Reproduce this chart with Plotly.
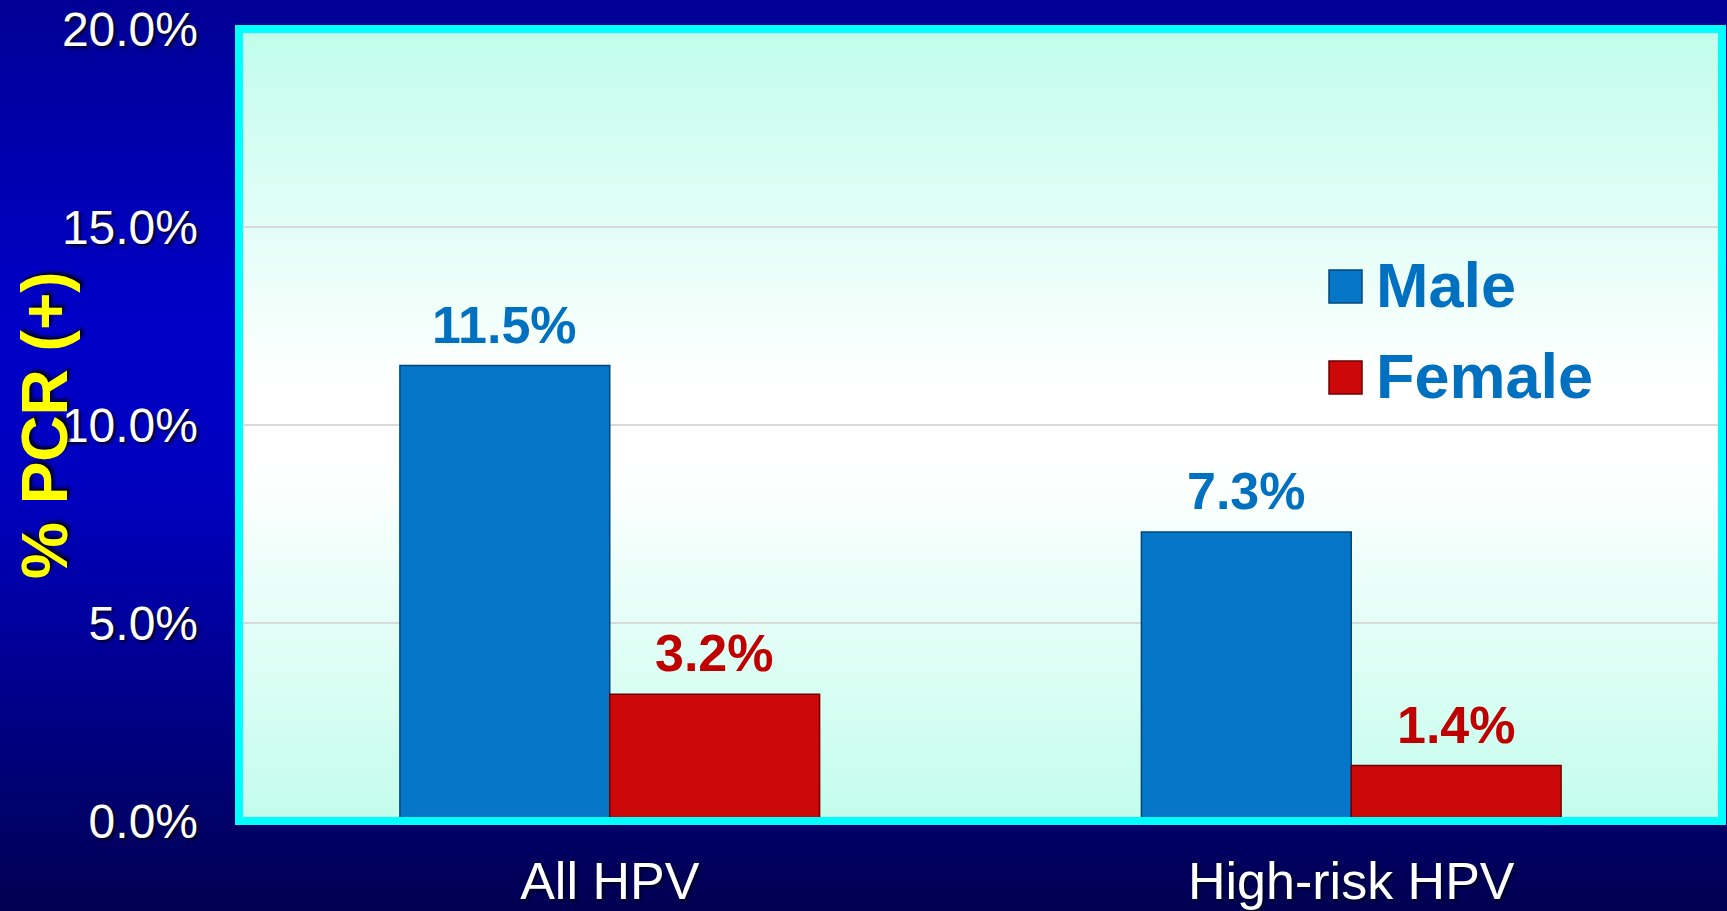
import base64, struct, zlib
import plotly.graph_objects as go

# ---- data ----
categories = ["All HPV", "High-risk HPV"]
series_names = ["Male", "Female"]
male_values = [11.5, 7.3]
female_values = [3.2, 1.4]
y_tick_values = [0, 5, 10, 15, 20]
y_tick_labels = ["0.0%", "5.0%", "10.0%", "15.0%", "20.0%"]

# ---- geometry / style ----
W, H = 1727, 911
ML, MR, MT, MB = 239, 5, 29, 90
PW, PH = W - ML - MR, H - MT - MB
BARGAP = 0.434
FONT = "Liberation Sans, Arial, sans-serif"
BAR_COLORS = ["#0576C8", "#CC0808"]
BAR_LINES = ["#03467A", "#6E0000"]
LABEL_COLORS = ["#0070C0", "#C00000"]
LEGEND_TEXT_COLOR = "#0070C0"


def px_x(px):
    return (px - ML) / PW


def px_y(py):
    return (H - MB - py) / PH


def gradient_png(stops, n=128):
    rows = []
    for i in range(n):
        t = i / (n - 1)
        for j in range(len(stops) - 1):
            t0, c0 = stops[j]
            t1, c1 = stops[j + 1]
            if t0 <= t <= t1:
                f = (t - t0) / (t1 - t0) if t1 > t0 else 0
                rows.append(bytes(int(round(c0[k] + (c1[k] - c0[k]) * f)) for k in range(3)))
                break
    raw = b"".join(b"\x00" + r for r in rows)

    def chunk(tag, data):
        c = tag + data
        return struct.pack(">I", len(data)) + c + struct.pack(">I", zlib.crc32(c) & 0xFFFFFFFF)

    png = (b"\x89PNG\r\n\x1a\n" + chunk(b"IHDR", struct.pack(">IIBBBBB", 1, n, 8, 2, 0, 0, 0))
           + chunk(b"IDAT", zlib.compress(raw, 9)) + chunk(b"IEND", b""))
    return "data:image/png;base64," + base64.b64encode(png).decode()


page_bg = gradient_png([(0.0, (0, 0, 150)), (0.35, (0, 0, 200)), (0.55, (0, 0, 190)), (1.0, (0, 0, 82))])
plot_bg = gradient_png([(0.0, (194, 253, 235)), (0.45, (255, 255, 255)), (0.55, (255, 255, 255)), (1.0, (196, 253, 236))])

fig = go.Figure()
for name, vals, col, lc in zip(series_names, [male_values, female_values], BAR_COLORS, BAR_LINES):
    fig.add_trace(go.Bar(
        x=categories, y=vals, name=name,
        marker=dict(color=col, line=dict(color=lc, width=1.5)),
        showlegend=False, hoverinfo="skip",
    ))

# value labels above bars
cat_px = PW / len(categories)
bar_w = cat_px * (1 - BARGAP) / 2
annotations = []
for si, (vals, lcol) in enumerate(zip([male_values, female_values], LABEL_COLORS)):
    shift = (si - 0.5) * bar_w
    for c, v in zip(categories, vals):
        annotations.append(dict(
            x=c, y=v, xref="x", yref="y", text=f"{v:.1f}%", showarrow=False,
            xshift=shift, yshift=10, yanchor="bottom",
            font=dict(family=FONT, size=52, color=lcol, weight="bold"),
        ))

# y-axis title
annotations.append(dict(
    x=px_x(45), y=0.5, xref="paper", yref="paper", text="% PCR (+)", textangle=-90,
    showarrow=False, xanchor="center", yanchor="middle",
    font=dict(family=FONT, size=64, color="#FFFF00", weight="bold", shadow="3px 3px 3px #000033"),
))

# custom legend
legend_rows = [(270, 303), (361, 394)]
shapes = []
for name, col, lc, (y0, y1) in zip(series_names, BAR_COLORS, BAR_LINES, legend_rows):
    shapes.append(dict(type="rect", xref="paper", yref="paper",
                       x0=px_x(1329), x1=px_x(1362), y0=px_y(y1), y1=px_y(y0),
                       fillcolor=col, line=dict(color=lc, width=1.5), layer="above"))
    annotations.append(dict(
        x=px_x(1374), y=px_y((y0 + y1) / 2 - 2), xref="paper", yref="paper", text=name,
        showarrow=False, xanchor="left", yanchor="middle",
        font=dict(family=FONT, size=63, color=LEGEND_TEXT_COLOR, weight="bold"),
    ))

# cyan frame around plot area
shapes.append(dict(type="rect", xref="paper", yref="paper", x0=0, x1=1, y0=0, y1=1,
                   line=dict(color="#00FFFF", width=8), fillcolor="rgba(0,0,0,0)", layer="above"))

fig.update_layout(
    width=W, height=H,
    margin=dict(l=ML, r=MR, t=MT, b=MB, autoexpand=False),
    paper_bgcolor="#000080", plot_bgcolor="rgba(0,0,0,0)",
    barmode="group", bargap=BARGAP, bargroupgap=0,
    showlegend=False,
    annotations=annotations, shapes=shapes,
    images=[
        dict(source=page_bg, xref="paper", yref="paper", x=-ML / PW, y=1 + MT / PH,
             sizex=W / PW, sizey=H / PH, sizing="stretch", layer="below",
             xanchor="left", yanchor="top"),
        dict(source=plot_bg, xref="paper", yref="paper", x=0, y=1, sizex=1, sizey=1,
             sizing="stretch", layer="below", xanchor="left", yanchor="top"),
    ],
    xaxis=dict(
        showgrid=False, zeroline=False, showline=False, ticks="",
        tickfont=dict(family=FONT, size=52, color="white", shadow="2px 2px 3px #000022"),
        ticklabelstandoff=25, fixedrange=True,
    ),
    yaxis=dict(
        range=[0, 20], tickvals=y_tick_values, ticktext=y_tick_labels,
        showgrid=True, gridcolor="#D9D9D9", gridwidth=1.5,
        zeroline=False, showline=False, ticks="",
        tickfont=dict(family=FONT, size=48, color="white", shadow="2px 2px 3px #000022"),
        ticklabelstandoff=40, fixedrange=True,
    ),
)

fig.write_html("out.html", config={"displayModeBar": False},
               post_script="document.body.style.margin='0';document.body.style.overflow='hidden';")
